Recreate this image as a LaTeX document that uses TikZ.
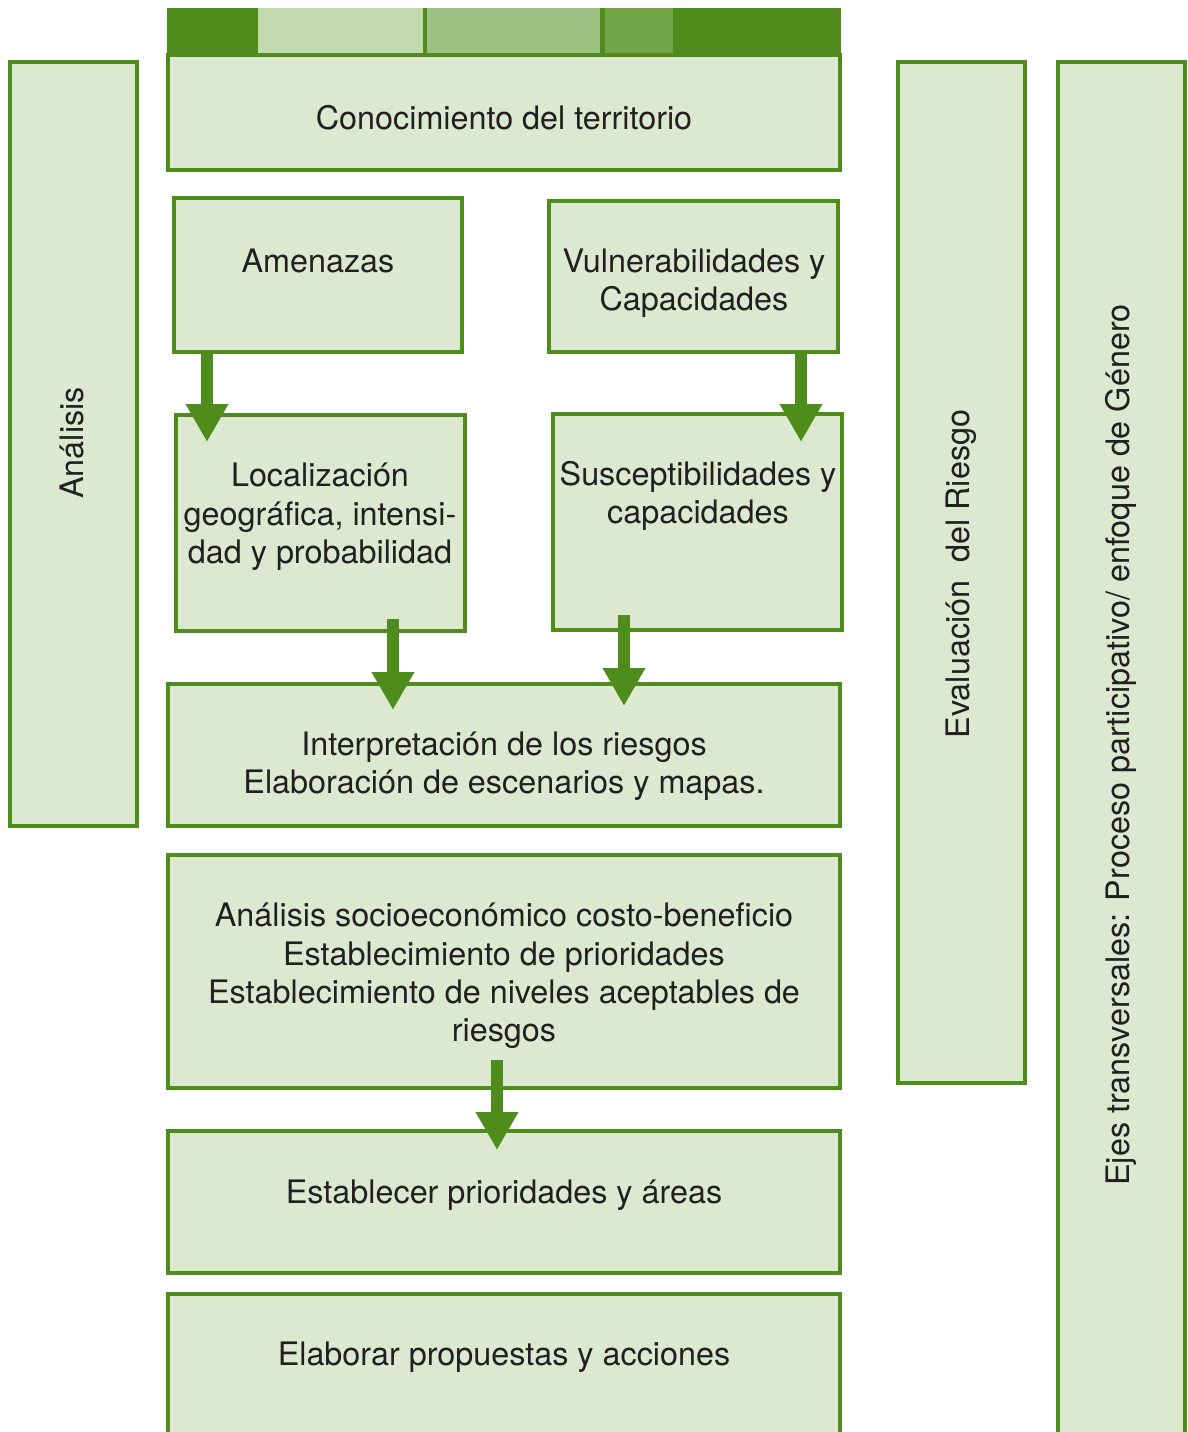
\documentclass[tikz,border=0pt]{standalone}
\usepackage{fontspec}
\setmainfont{TeX Gyre Heros}
\usetikzlibrary{arrows.meta,fit}
\definecolor{gdark}{HTML}{4E8C1C}
\definecolor{gfill}{HTML}{DCE8D0}
\definecolor{gl1}{HTML}{C2D9B0}
\definecolor{gl2}{HTML}{9EC283}
\definecolor{gl3}{HTML}{72A548}
\definecolor{txt}{HTML}{231F20}
\tikzset{
  box/.style={draw=gdark, fill=gfill, line width=3.5pt, inner sep=0pt},
  lbl/.style={text=txt, align=center, font=\fontsize{23pt}{27.3pt}\selectfont, inner sep=0pt},
  flow/.style={draw=gdark, line width=9.2pt, -{Triangle[length=27pt,width=28.5pt]}},
}
\begin{document}
\begin{tikzpicture}[x=0.025cm,y=-0.025cm]
\clip (0,0) rectangle (1188,1432);
% top bar
\fill[gdark] (167,8) rectangle (841,58);
\fill[gl1] (258,8) rectangle (423,54);
\fill[gl2] (427,8) rectangle (600,54);
\fill[gl3] (605,8) rectangle (673,54);
% boxes
\node[box, fit={(168,55) (840,170)}] (con) {};
\node[box, fit={(10,62) (137,826)}] (ana) {};
\node[box, fit={(174,198) (462,352)}] (ame) {};
\node[box, fit={(549,201) (838,352)}] (vul) {};
\node[box, fit={(176,415) (465,631)}] (loc) {};
\node[box, fit={(553,414) (842,630)}] (sus) {};
\node[box, fit={(168,684) (840,826)}] (int) {};
\node[box, fit={(168,855) (840,1088)}] (soc) {};
\node[box, fit={(168,1131) (840,1273)}] (est) {};
\node[box, fit={(168,1294) (840,1460)}] (ela) {};
\node[box, fit={(898,62) (1025,1083)}] (eva) {};
\node[box, fit={(1058,62) (1185,1460)}] (eje) {};
% texts
\node[lbl] at (504,118) {Conocimiento del territorio};
\node[lbl, rotate=90] at (72,443) {Análisis};
\node[lbl] at (318,261) {Amenazas};
\node[lbl] at (694,283) {Vulnerabilidades y\\Capacidades};
\node[lbl] at (320,517) {Localización\\geográfica, intensi-\\dad y probabilidad};
\node[lbl] at (698,496) {Susceptibilidades y\\capacidades};
\node[lbl] at (504,766) {Interpretación de los riesgos\\Elaboración de escenarios y mapas.};
\node[lbl] at (504,976) {Análisis socioeconómico costo-beneficio\\Establecimiento de prioridades\\Establecimiento de niveles aceptables de\\riesgos};
\node[lbl] at (504,1195) {Establecer prioridades y áreas};
\node[lbl] at (504,1357) {Elaborar propuestas y acciones};
\node[lbl, rotate=90] at (961,574) {Evaluación\ \ del Riesgo};
\node[lbl, rotate=90] at (1121,745) {Ejes transversales: Proceso participativo/ enfoque de Género};
% arrows
\coordinate (a1s) at (207,352); \coordinate (a1e) at (207,442);
\coordinate (a2s) at (801,352); \coordinate (a2e) at (801,442);
\coordinate (a3s) at (393,619); \coordinate (a3e) at (393,710);
\coordinate (a4s) at (624,615); \coordinate (a4e) at (624,706);
\coordinate (a5s) at (497,1060); \coordinate (a5e) at (497,1150);
\draw[flow] (a1s) -- (a1e);
\draw[flow] (a2s) -- (a2e);
\draw[flow] (a3s) -- (a3e);
\draw[flow] (a4s) -- (a4e);
\draw[flow] (a5s) -- (a5e);
\end{tikzpicture}
\end{document}
